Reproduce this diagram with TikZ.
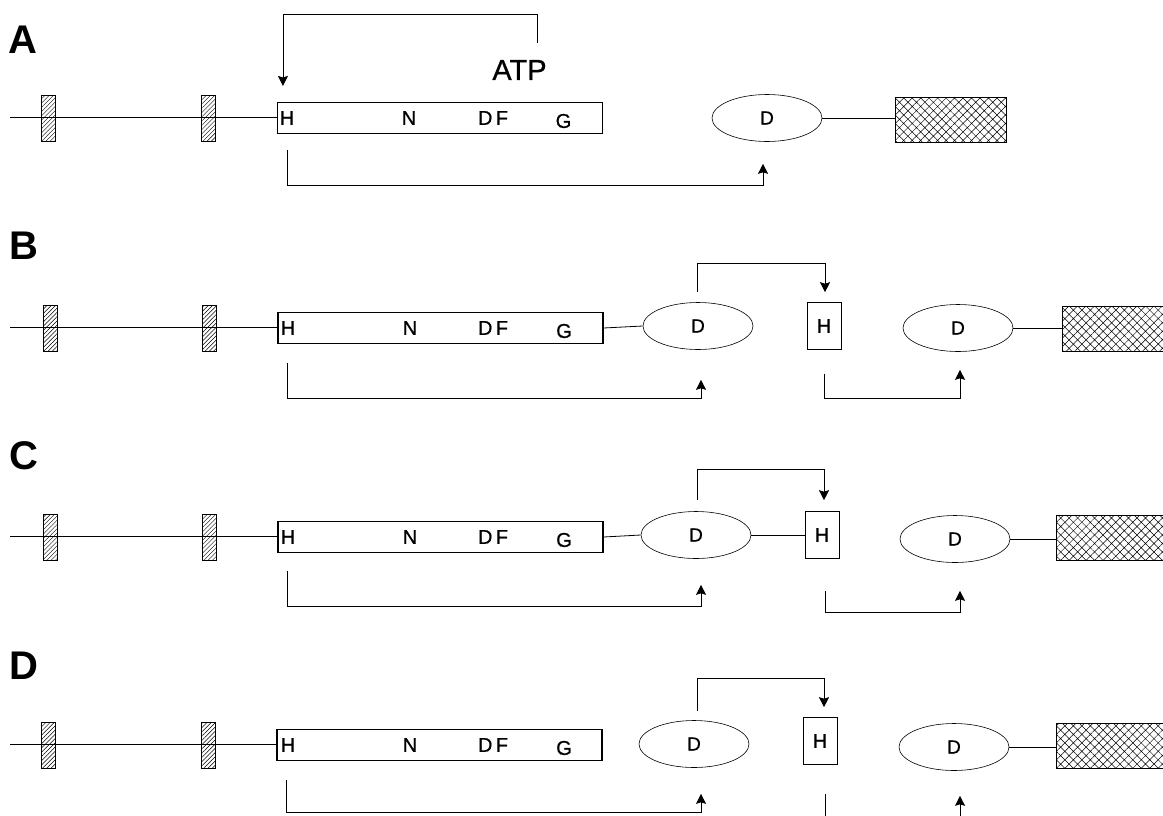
\documentclass[tikz,border=0pt]{standalone}
\usepackage{fontspec}
\setmainfont{Liberation Sans}
\newfontfamily\resfont[FakeBold=0.7]{Liberation Sans}
\usetikzlibrary{patterns.meta,arrows.meta,shapes.geometric}
\begin{document}
\begin{tikzpicture}[x=1pt,y=-1pt,
  ln/.style={line width=0.8pt},
  arr/.style={line width=0.8pt,-{Stealth[length=10pt,width=10pt,inset=1.5pt]}},
  hbox/.style={draw,line width=0.7pt,pattern={Lines[angle=45,distance=3pt,line width=0.45pt]},minimum width=14pt,minimum height=46pt,inner sep=0pt},
  xbox/.style={draw,line width=1pt,pattern={Hatch[angle=45,distance=6pt,line width=0.5pt]},minimum width=111pt,minimum height=45pt,inner sep=0pt},
  gene/.style={draw,line width=1.1pt,minimum width=325pt,minimum height=31pt,inner sep=0pt},
  dom/.style={draw,ellipse,line width=0.6pt,minimum width=110pt,minimum height=47pt,inner sep=0pt,font=\resfont\fontsize{19}{21}\selectfont},
  hdom/.style={draw,line width=0.6pt,minimum width=34pt,minimum height=47pt,inner sep=0pt,font=\resfont\fontsize{20}{22}\selectfont},
  res/.style={font=\resfont\fontsize{20}{22}\selectfont,inner sep=0pt},
  panel/.style={font=\fontsize{40}{42}\selectfont\bfseries,inner sep=0pt},
]
\clip (0,0) rectangle (1163,815);
\fill[white] (0,0) rectangle (1163,815);

% ---------------- Panel A ----------------
\node[panel] (lA) at (23,40) {A};
\coordinate (sA) at (10,117);
\node[gene] (gA) at (440,118) {};
\draw[ln] (sA) -- (sA -| gA.west);
\node[hbox] (a1) at (48,118) {};
\node[hbox] (a2) at (208,118) {};
\node[res] (hA) at (287,118) {H};
\node[res] (nA) at (409,118) {N};
\node[res] (dfA) at (493,118) {D\,F};
\node[res] (gGA) at (563.5,121) {G};
\node[dom] (dA) at (767,118) {D};
\node[xbox] (xA) at (950.5,120) {};
\draw[ln] (dA.east) -- (dA.east -| xA.west);
\node[font=\resfont\fontsize{29}{31}\selectfont,inner sep=0pt] (atp) at (519.5,70) {ATP};
\coordinate (atpT) at (537,43);
\draw[arr] (atpT) -- ++(0,-29) -| ([xshift=6pt,yshift=16pt]gA.north west);
\draw[arr] ([xshift=10pt,yshift=-16pt]gA.south west) -- ++(0,35) -| ([xshift=-4pt,yshift=-22pt]dA.south);

% ---------------- Panel B ----------------
\node[panel] (lB) at (24,246) {B};
\coordinate (sB) at (10,327);
\node[gene] (gB) at (440.5,328) {};
\draw[ln] (sB) -- (sB -| gB.west);
\node[hbox] (b1) at (50,328) {};
\node[hbox] (b2) at (209.5,328) {};
\node[res] (hB) at (288,328) {H};
\node[res] (nB) at (410,328) {N};
\node[res] (dfB) at (493,328) {D\,F};
\node[res] (gGB) at (564,331) {G};
\node[dom] (d1B) at (698,326) {D};
\node[hdom] (hhB) at (824,326) {H};
\node[dom] (d2B) at (958,328) {D};
\node[xbox] (xB) at (1117.5,329) {};
\draw[ln] (gB.east) -- (d1B.west);
\draw[ln] (d2B.east) -- (d2B.east -| xB.west);
\draw[arr] ([xshift=-1pt,yshift=10pt]d1B.north) -- ++(0,-29) -| ([xshift=1pt,yshift=10pt]hhB.north);
\draw[arr] ([xshift=10pt,yshift=-19pt]gB.south west) -- ++(0,35) -| ([xshift=3pt,yshift=-30pt]d1B.south);
\draw[arr] ([yshift=-24pt]hhB.south) -- ++(0,25) -| ([xshift=2pt,yshift=-18pt]d2B.south);

% ---------------- Panel C ----------------
\node[panel] (lC) at (24,456) {C};
\coordinate (sC) at (10,536);
\node[gene] (gC) at (440.5,537) {};
\draw[ln] (sC) -- (sC -| gC.west);
\node[hbox] (c1) at (50,537) {};
\node[hbox] (c2) at (209,537) {};
\node[res] (hC) at (288,537) {H};
\node[res] (nC) at (410,537) {N};
\node[res] (dfC) at (493,537) {D\,F};
\node[res] (gGC) at (564,540) {G};
\node[dom] (d1C) at (696,535) {D};
\node[hdom] (hhC) at (822,535) {H};
\node[dom] (d2C) at (955,539) {D};
\node[xbox] (xC) at (1112,538) {};
\draw[ln] (gC.east) -- (d1C.west);
\draw[ln] (d1C.east) -- (hhC.west);
\draw[ln] (d2C.east) -- (d2C.east -| xC.west);
\draw[arr] ([xshift=1pt,yshift=11pt]d1C.north) -- ++(0,-31) -| ([xshift=2pt,yshift=11pt]hhC.north);
\draw[arr] ([xshift=10pt,yshift=-18pt]gC.south west) -- ++(0,35) -| ([xshift=5pt,yshift=-26pt]d1C.south);
\draw[arr] ([xshift=3pt,yshift=-32pt]hhC.south) -- ++(0,22) -| ([xshift=5pt,yshift=-28pt]d2C.south);

% ---------------- Panel D ----------------
\node[panel] (lD) at (24,666) {D};
\coordinate (sD) at (10,744);
\node[gene] (gD) at (439.5,745) {};
\draw[ln] (sD) -- (sD -| gD.west);
\node[hbox] (e1) at (48,745) {};
\node[hbox] (e2) at (208,745) {};
\node[res] (hD) at (288,745) {H};
\node[res] (nD) at (410,745) {N};
\node[res] (dfD) at (493,745) {D\,F};
\node[res] (gGD) at (564,748) {G};
\node[dom] (d1D) at (694,744) {D};
\node[hdom] (hhD) at (820,741) {H};
\node[dom] (d2D) at (954,747) {D};
\node[xbox] (xD) at (1112,746) {};
\draw[ln] (d2D.east) -- (d2D.east -| xD.west);
\draw[arr] ([xshift=3pt,yshift=9pt]d1D.north) -- ++(0,-33) -| ([xshift=4pt,yshift=10pt]hhD.north);
\draw[arr] ([xshift=10pt,yshift=-19pt]gD.south west) -- ++(0,32) -| ([xshift=7pt,yshift=-26pt]d1D.south);
\coordinate (vD) at ([xshift=5pt,yshift=-29pt]hhD.south);
\draw[ln] (vD) -- ++(0,30);
\coordinate (uD) at (960,830);
\draw[arr] (uD) -- ([xshift=6pt,yshift=-25pt]d2D.south);
\end{tikzpicture}
\end{document}
